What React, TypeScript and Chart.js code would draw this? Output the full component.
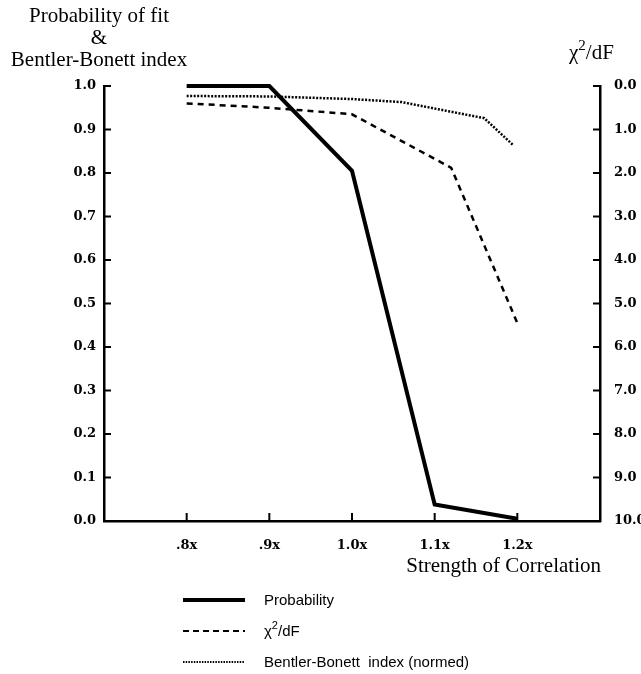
import React, { useEffect, useRef } from "react";
import { Chart, registerables } from "chart.js";

Chart.register(...registerables);

// ---- data ----
const xTickValues = [0.8, 0.9, 1.0, 1.1, 1.2];
const xTickLabels = [".8x", ".9x", "1.0x", "1.1x", "1.2x"];

const probX = [0.8, 0.9, 1.0, 1.1, 1.2];
const probability = [1.0, 1.0, 0.805, 0.038, 0.005];

const chiX = [0.8, 0.9, 1.0, 1.12, 1.2];
const chiSquareDf = [0.4, 0.5, 0.65, 1.88, 5.45];

const bbX = [0.8, 0.9, 1.0, 1.06, 1.16, 1.195];
const bentlerBonett = [0.977, 0.976, 0.97, 0.963, 0.926, 0.864];

const seriesNames = ["Probability", "χ²/dF", "Bentler-Bonett  index (normed)"];
const leftTitleLines = ["Probability of fit", "&", "Bentler-Bonett index"];
const rightTitle = "χ²/dF";
const xTitle = "Strength of Correlation";

const SERIF = "'Liberation Serif', 'Times New Roman', serif";
const TICKFONT = "'DejaVu Serif', 'Liberation Serif', serif";
const SANS = "'Liberation Sans', Arial, sans-serif";

// draw text where "²" is rendered as a raised "2"
function drawRich(ctx: CanvasRenderingContext2D, text: string, x: number, y: number, size: number, family: string) {
  const parts = text.split("²");
  let cx = x;
  parts.forEach((p, i) => {
    ctx.font = `${size}px ${family}`;
    ctx.fillText(p, cx, y);
    cx += ctx.measureText(p).width;
    if (i < parts.length - 1) {
      ctx.font = `${Math.round(size * 0.72)}px ${family}`;
      ctx.fillText("2", cx, y - size * 0.42);
      cx += ctx.measureText("2").width;
    }
  });
}

const decorPlugin = {
  id: "decor",
  afterDatasetsDraw(chart: any) {
    const { ctx, chartArea: a, scales } = chart;
    ctx.save();
    ctx.strokeStyle = "#000";
    ctx.lineWidth = 2;
    const line = (x1: number, y1: number, x2: number, y2: number) => {
      ctx.beginPath();
      ctx.moveTo(x1, y1);
      ctx.lineTo(x2, y2);
      ctx.stroke();
    };
    scales.y.ticks.forEach((t: any) => {
      const y = scales.y.getPixelForValue(t.value);
      line(a.left, y, a.left + 7, y);
    });
    scales.y2.ticks.forEach((t: any) => {
      const y = scales.y2.getPixelForValue(t.value);
      line(a.right - 7, y, a.right, y);
    });
    scales.x.ticks.forEach((t: any) => {
      const x = scales.x.getPixelForValue(t.value);
      line(x, a.bottom, x, a.bottom - 8);
    });

    // titles
    ctx.fillStyle = "#000";
    ctx.textBaseline = "middle";
    ctx.textAlign = "center";
    ctx.font = `21px ${SERIF}`;
    leftTitleLines.forEach((s, i) => ctx.fillText(s, 99, 16 + i * 22));

    ctx.textAlign = "left";
    ctx.textBaseline = "alphabetic";
    drawRich(ctx, rightTitle, 569, 59, 21, SERIF);

    ctx.textAlign = "right";
    ctx.textBaseline = "middle";
    ctx.font = `21px ${SERIF}`;
    ctx.fillText(xTitle, 601, 566);

    // legend
    const ds = chart.data.datasets;
    const legendDash = [[], [6, 4], [1.5, 1.2]];
    const legendWidth = [4, 2, 2];
    ds.forEach((d: any, i: number) => {
      const y = 600 + i * 31;
      ctx.setLineDash(legendDash[i]);
      ctx.lineWidth = legendWidth[i];
      ctx.strokeStyle = d.borderColor;
      line(183, y, 245, y);
      ctx.setLineDash([]);
      ctx.textAlign = "left";
      ctx.textBaseline = "middle";
      drawRich(ctx, d.label, 264, y + 1, 15, SANS);
    });
    ctx.restore();
  },
};

export default function App() {
  const ref = useRef<HTMLCanvasElement | null>(null);
  useEffect(() => {
    document.body.style.margin = "0";
    const canvas = ref.current!;
    const chart = new Chart(canvas, {
      type: "line",
      data: {
        datasets: [
          {
            label: seriesNames[0],
            data: probX.map((x, i) => ({ x, y: probability[i] })),
            yAxisID: "y",
            borderColor: "#000",
            borderWidth: 4,
            pointRadius: 0,
            fill: false,
            tension: 0,
            clip: false as any,
          },
          {
            label: seriesNames[1],
            data: chiX.map((x, i) => ({ x, y: chiSquareDf[i] })),
            yAxisID: "y2",
            borderColor: "#000",
            borderWidth: 2.5,
            borderDash: [6, 5],
            pointRadius: 0,
            fill: false,
            tension: 0,
            clip: false as any,
          },
          {
            label: seriesNames[2],
            data: bbX.map((x, i) => ({ x, y: bentlerBonett[i] })),
            yAxisID: "y",
            borderColor: "#000",
            borderWidth: 2.5,
            borderDash: [2, 1.5],
            pointRadius: 0,
            fill: false,
            tension: 0,
            clip: false as any,
          },
        ],
      },
      options: {
        animation: false,
        responsive: false,
        layout: { padding: { top: 86, left: 0, right: 0, bottom: 0 } },
        plugins: { legend: { display: false }, tooltip: { enabled: false }, title: { display: false } },
        scales: {
          x: {
            type: "linear",
            min: 0.7,
            max: 1.3,
            afterBuildTicks: (s: any) => {
              s.ticks = xTickValues.map((v) => ({ value: v }));
            },
            afterFit: (s: any) => {
              s.height = 153;
            },
            grid: { display: false, drawTicks: false },
            border: { display: true, color: "#000", width: 2.5 },
            ticks: {
              autoSkip: false,
              maxRotation: 0,
              padding: 17,
              color: "#000",
              font: { family: TICKFONT, size: 13, weight: "bold" },
              callback: (_v: any, i: number) => xTickLabels[i],
            },
          },
          y: {
            type: "linear",
            position: "left",
            min: 0,
            max: 1,
            afterFit: (s: any) => {
              s.width = 104;
            },
            grid: { display: false, drawTicks: false },
            border: { display: true, color: "#000", width: 2.5 },
            ticks: {
              stepSize: 0.1,
              autoSkip: false,
              padding: 8,
              color: "#000",
              font: { family: TICKFONT, size: 13, weight: "bold" },
              callback: (v: any) => Number(v).toFixed(1),
            },
          },
          y2: {
            type: "linear",
            position: "right",
            min: 0,
            max: 10,
            reverse: true,
            afterFit: (s: any) => {
              s.width = 41;
            },
            grid: { display: false, drawTicks: false },
            border: { display: true, color: "#000", width: 2.5 },
            ticks: {
              stepSize: 1,
              autoSkip: false,
              padding: 14,
              color: "#000",
              font: { family: TICKFONT, size: 13, weight: "bold" },
              callback: (v: any) => Number(v).toFixed(1),
            },
          },
        },
      },
      plugins: [decorPlugin],
    } as any);
    return () => chart.destroy();
  }, []);
  return (
    <canvas
      ref={ref}
      width={641}
      height={674}
      style={{ position: "absolute", left: 0, top: 0, width: 641, height: 674 }}
    />
  );
}
